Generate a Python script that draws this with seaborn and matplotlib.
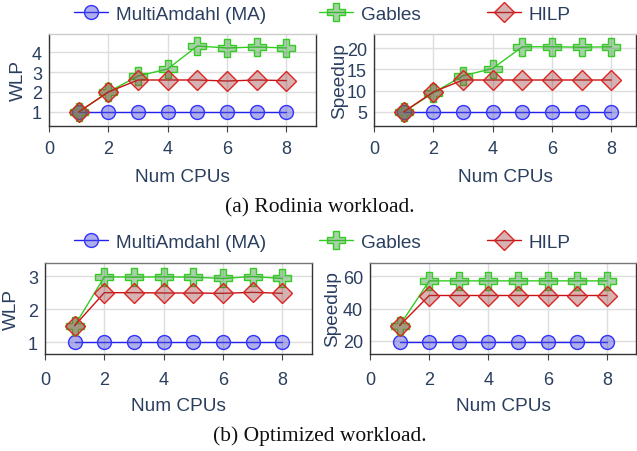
import numpy as np
import pandas as pd
import seaborn as sns
import matplotlib.pyplot as plt
from matplotlib.lines import Line2D

sns.set_style("white")
plt.rcParams['font.family'] = ['Liberation Sans', 'DejaVu Sans']

# dados
cpus = [1, 2, 3, 4, 5, 6, 7, 8]

# (a) Rodinia
rod_wlp_ma = [1, 1, 1, 1, 1, 1, 1, 1]
rod_wlp_gables = [1, 2.0, 2.8, 3.15, 4.3, 4.2, 4.25, 4.2]
rod_wlp_hilp = [1, 2.0, 2.6, 2.6, 2.6, 2.55, 2.6, 2.57]
rod_sp_ma = [4.9, 4.9, 4.9, 4.9, 4.9, 4.9, 4.9, 4.9]
rod_sp_gables = [5.0, 9.5, 13.5, 15.2, 20.3, 20.3, 20.2, 20.3]
rod_sp_hilp = [5.0, 9.7, 12.5, 12.5, 12.5, 12.5, 12.5, 12.5]

# (b) Optimized
opt_wlp_ma = [1, 1, 1, 1, 1, 1, 1, 1]
opt_wlp_gables = [1.5, 2.98, 2.97, 2.98, 2.97, 2.93, 2.99, 2.93]
opt_wlp_hilp = [1.5, 2.5, 2.5, 2.49, 2.49, 2.48, 2.51, 2.48]
opt_sp_ma = [19.5, 19.5, 19.5, 19.5, 19.5, 19.5, 19.5, 19.5]
opt_sp_gables = [29.5, 57, 57, 57, 57, 57, 57, 57]
opt_sp_hilp = [29.5, 48, 48, 48, 48, 48, 48, 48]

txt = '#2a3f5f'
W, H = 637, 452

# estilos das series
estilos = {
    'MultiAmdahl (MA)': dict(color='#2222ee', marker='o', markersize=10,
                             markerfacecolor=(0.3, 0.3, 0.85, 0.45), markeredgecolor='#3333ff'),
    'Gables': dict(color='#33cc22', marker='P', markersize=12.5,
                   markerfacecolor=(0.25, 0.6, 0.25, 0.45), markeredgecolor='#33cc22'),
    'HILP': dict(color='#cc1111', marker='D', markersize=10.5,
                 markerfacecolor=(0.6, 0.25, 0.25, 0.4), markeredgecolor='#dd2222'),
}


def eixo(px_left, px_top, px_right, px_bottom):
    return fig.add_axes([px_left / W, 1 - px_bottom / H,
                         (px_right - px_left) / W, (px_bottom - px_top) / H])


def painel(ax, ma, gab, hilp, ylabel, ylim, yticks, xmax, top_col, ylpad, xpad, xlpad):
    for nome, y in [('MultiAmdahl (MA)', ma), ('Gables', gab), ('HILP', hilp)]:
        sns.lineplot(x=cpus, y=y, ax=ax, linewidth=1, markeredgewidth=1, **estilos[nome])
    ax.set_xlim(0, xmax)
    ax.set_ylim(*ylim)
    ax.set_xticks([0, 2, 4, 6, 8])
    ax.set_yticks(yticks)
    ax.grid(True, color='#dddddd', linewidth=1)
    ax.set_axisbelow(True)
    ax.set_xlabel('Num CPUs', color=txt, fontsize=13.7, labelpad=xlpad)
    ax.set_ylabel(ylabel, color=txt, fontsize=13.7, labelpad=ylpad)
    ax.tick_params(axis='x', colors=txt, labelsize=13, length=4, direction='out',
                   bottom=True, color='#444444', pad=xpad)
    ax.tick_params(axis='y', colors=txt, labelsize=13, length=0, pad=5)
    for s in ['left', 'bottom', 'right']:
        ax.spines[s].set_color('#333333')
        ax.spines[s].set_linewidth(1)
    ax.spines['top'].set_color(top_col)
    ax.spines['top'].set_linewidth(1)


fig = plt.figure(figsize=(W / 100, H / 100), dpi=100)

ax1 = eixo(49, 35, 316, 127)
painel(ax1, rod_wlp_ma, rod_wlp_gables, rod_wlp_hilp, 'WLP', (0.3, 4.9), [1, 2, 3, 4], 9,
       '#cccccc', 4, 6, 8)
ax2 = eixo(374, 35, 636, 127)
painel(ax2, rod_sp_ma, rod_sp_gables, rod_sp_hilp, 'Speedup', (1.7, 23.3), [5, 10, 15, 20], 8.83,
       '#cccccc', -1, 6, 8)
ax3 = eixo(45, 264, 312, 355)
painel(ax3, opt_wlp_ma, opt_wlp_gables, opt_wlp_hilp, 'WLP', (0.64, 3.4), [1, 2, 3], 9,
       '#777777', 6, 8, 7)
ax4 = eixo(370, 264, 636, 355)
painel(ax4, opt_sp_ma, opt_sp_gables, opt_sp_hilp, 'Speedup', (12, 68), [20, 40, 60], 8.98,
       '#777777', 1, 8, 7)

# legendas (uma por item, como no original)
for ypx in [15, 243]:
    for nome, xpx in [('MultiAmdahl (MA)', 74), ('Gables', 319), ('HILP', 487)]:
        h = Line2D([], [], linewidth=1, markeredgewidth=1, **estilos[nome])
        fig.legend(handles=[h], labels=[nome], loc='center left',
                   bbox_to_anchor=(xpx / W, 1 - ypx / H), frameon=False,
                   fontsize=13.7, labelcolor=txt, handlelength=1.8, handletextpad=0.4,
                   borderpad=0, borderaxespad=0)

fig.text(320 / W, 1 - 208 / H, '(a) Rodinia workload.', ha='center', va='center',
         fontsize=15.5, family=['Liberation Serif', 'DejaVu Serif'], color='#111111')
fig.text(320 / W, 1 - 436 / H, '(b) Optimized workload.', ha='center', va='center',
         fontsize=15.5, family=['Liberation Serif', 'DejaVu Serif'], color='#111111')

fig.savefig('out.png', dpi=100)
